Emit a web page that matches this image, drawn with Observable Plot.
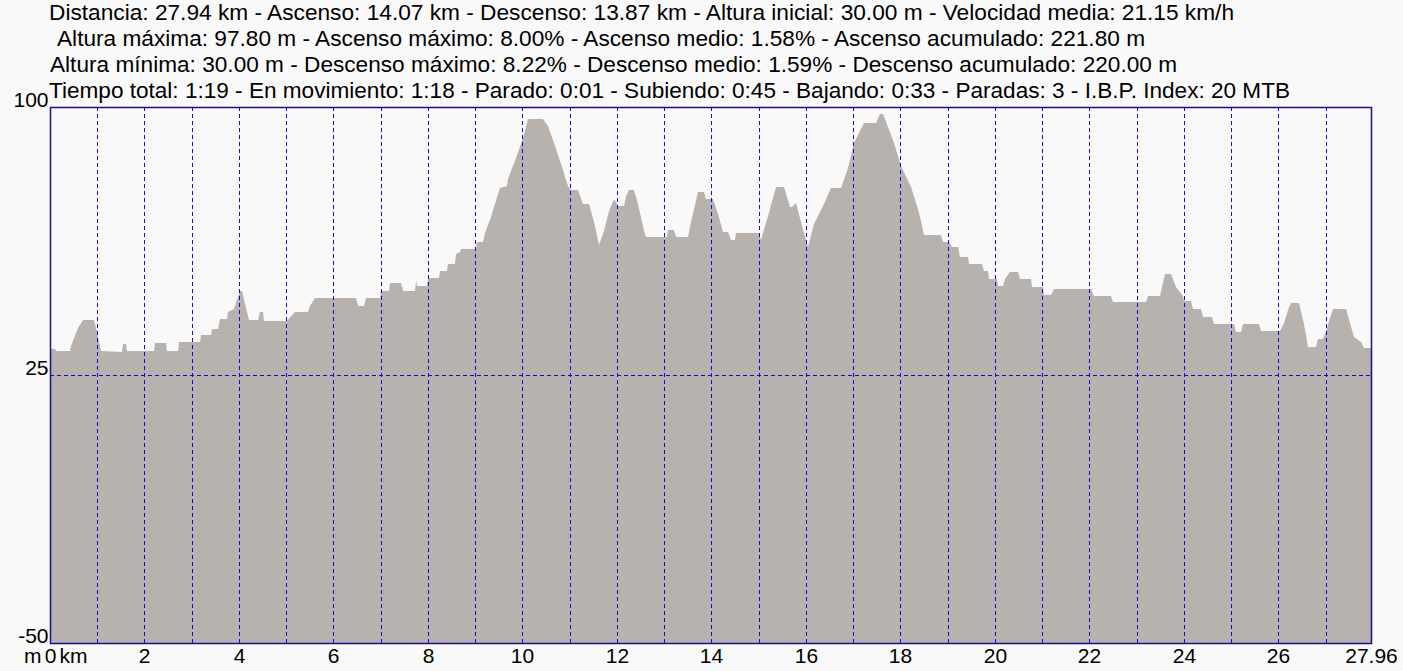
<!DOCTYPE html>
<html>
<head>
<meta charset="utf-8">
<script src="https://cdn.jsdelivr.net/npm/d3@7"></script>
<script src="https://cdn.jsdelivr.net/npm/@observablehq/plot@0.6"></script>
<style>
  html, body { margin: 0; padding: 0; background: #f9f9f9; }
  #wrap { position: relative; width: 1403px; height: 671px; overflow: hidden; }
  #header { position: absolute; left: 0; top: 0; }
  #header text { font-family: "Liberation Sans", Arial, sans-serif; font-size: 22px; fill: #000; }
</style>
</head>
<body>
<div id="wrap"><div id="chart"></div><svg id="header" width="1403" height="106"></svg></div>
<script>
// Header lines
const headerLines = [
  "Distancia: 27.94 km - Ascenso: 14.07 km - Descenso: 13.87 km - Altura inicial: 30.00 m - Velocidad media: 21.15 km/h",
  "Altura máxima: 97.80 m - Ascenso máximo: 8.00% - Ascenso medio: 1.58% - Ascenso acumulado: 221.80 m",
  "Altura mínima: 30.00 m - Descenso máximo: 8.22% - Descenso medio: 1.59% - Descenso acumulado: 220.00 m",
  "Tiempo total: 1:19 - En movimiento: 1:18 - Parado: 0:01 - Subiendo: 0:45 - Bajando: 0:33 - Paradas: 3 - I.B.P. Index: 20 MTB"
];
// Distance along the route (km)
const dist = [0.00,0.11,0.13,0.42,0.44,0.59,0.70,0.93,0.99,1.08,1.52,1.54,1.61,1.63,2.20,2.22,2.46,2.48,2.71,2.73,
  3.17,3.20,3.41,3.43,3.56,3.60,3.75,3.77,3.89,4.02,4.06,4.21,4.40,4.44,4.50,4.53,5.02,5.14,5.19,5.46,
  5.50,5.61,6.48,6.52,6.65,6.69,6.98,7.01,7.17,7.20,7.43,7.47,7.72,7.75,7.77,7.98,8.00,8.23,8.25,8.40,
  8.42,8.57,8.59,8.68,8.70,9.02,9.04,9.16,9.21,9.33,9.48,9.52,9.67,9.69,9.76,9.86,10.01,10.12,10.43,10.54,
  10.67,10.81,10.96,11.03,11.17,11.28,11.41,11.51,11.62,11.72,11.83,11.94,12.02,12.15,12.19,12.25,12.36,12.44,12.57,12.61,
  13.06,13.08,13.21,13.25,13.50,13.57,13.71,13.84,13.89,14.03,14.14,14.24,14.35,14.41,14.50,14.52,15.01,15.05,15.20,15.37,
  15.53,15.66,15.70,15.79,15.89,16.04,16.17,16.38,16.53,16.74,16.89,17.02,17.23,17.48,17.57,17.63,17.67,17.86,18.01,18.22,
  18.37,18.43,18.50,18.86,18.90,19.03,19.09,19.22,19.26,19.43,19.45,19.72,19.77,19.85,19.87,20.04,20.06,20.17,20.21,20.32,
  20.48,20.53,20.76,20.78,21.02,21.04,21.19,21.25,22.03,22.10,22.46,22.50,23.20,23.24,23.49,23.53,23.60,23.72,23.83,23.98,
  24.00,24.15,24.19,24.36,24.40,24.59,24.63,25.06,25.10,25.21,25.25,25.59,25.63,26.03,26.12,26.22,26.26,26.43,26.54,26.62,
  26.79,26.84,26.94,27.01,27.15,27.43,27.60,27.75,27.82,27.96];
// Elevation (m)
const elev = [32.3,32.3,31.8,31.8,33.0,38.1,40.4,40.4,37.0,31.8,31.5,33.7,33.7,31.8,31.8,34.0,34.0,31.8,31.8,34.3,
  34.3,36.2,36.2,38.0,38.0,40.7,40.7,42.7,43.5,48.6,48.6,40.4,40.4,42.5,42.5,40.2,40.2,42.2,42.5,42.5,
  44.4,46.5,46.5,44.4,44.4,46.5,46.5,48.6,48.6,50.7,50.7,48.6,48.6,51.4,50.0,50.0,52.1,52.1,54.2,54.2,
  56.0,56.0,58.8,59.5,60.3,60.3,62.3,62.3,64.6,69.1,75.6,77.3,78.0,79.8,82.1,85.8,91.4,96.6,96.6,94.7,
  90.0,84.0,77.9,76.7,76.7,72.8,72.8,67.7,61.4,65.3,70.9,74.2,72.3,72.3,75.1,76.7,76.7,72.8,65.3,63.5,
  63.5,65.5,65.5,63.5,63.5,67.7,76.1,76.1,74.2,74.2,70.0,64.9,64.9,62.8,62.8,64.6,64.6,62.8,69.5,77.5,
  77.5,71.9,71.9,73.0,67.7,60.7,67.2,72.8,77.3,77.3,83.0,90.0,95.6,95.6,98.0,98.0,96.6,90.0,83.5,77.5,
  71.4,68.1,64.2,64.2,62.3,62.3,60.7,60.7,57.9,57.9,56.0,56.0,54.2,54.2,52.0,52.0,50.0,50.0,51.8,53.7,
  53.7,51.8,51.8,49.7,49.7,47.5,47.5,49.2,49.2,47.2,47.2,45.3,45.3,47.2,47.2,49.5,53.4,53.4,49.5,47.0,
  45.8,45.8,43.5,43.5,41.3,41.3,39.3,39.3,36.9,36.9,39.3,39.3,37.2,37.2,39.5,43.9,45.1,45.1,39.3,32.9,
  32.9,35.1,35.1,37.2,43.5,43.5,35.5,34.1,32.6,32.6];
const gridKm = [1,2,3,4,5,6,7,8,9,10,11,12,13,14,15,16,17,18,19,20,21,22,23,24,25,26,27];
const xTicks = [0,2,4,6,8,10,12,14,16,18,20,22,24,26,27.96];
const yTicks = [-50,25,100];
const yGrid = [25];
const xUnit = "km";
const yUnit = "m";

const profile = dist.map((d, i) => ({d, e: elev[i]}));

const gridColor = "#2200d8";
const frameColor = "#1b0e8f";
const chart = Plot.plot({
  width: 1403,
  height: 671,
  marginLeft: 50,
  marginRight: 32,
  marginTop: 107,
  marginBottom: 28,
  style: {background: "#f9f9f9", fontFamily: "'Liberation Sans', Arial, sans-serif", fontSize: "21px", color: "#000"},
  x: {domain: [0, 27.96], round: true},
  y: {domain: [-50, 100], round: true},
  marks: [
    Plot.areaY(profile, {x: "d", y1: -50, y2: "e", fill: "#b8b2ae", curve: "linear"}),
    Plot.ruleX(gridKm, {x: d => d, stroke: gridColor, strokeWidth: 1, strokeDasharray: "4,3"}),
    Plot.ruleY(yGrid, {y: d => d, stroke: gridColor, strokeWidth: 1, strokeDasharray: "4,3"}),
    Plot.frame({stroke: frameColor, strokeWidth: 1.5}),
    Plot.axisX(xTicks, {tickSize: 0, tickPadding: 5, fontSize: 21, tickFormat: d => String(d), label: null}),
    Plot.text([yUnit], {x: 0, y: -50, text: d => d, textAnchor: "end", lineAnchor: "top", dx: -9, dy: 5, fontSize: 21}),
    Plot.text([xUnit], {x: 0, y: -50, text: d => d, textAnchor: "start", lineAnchor: "top", dx: 9, dy: 5, fontSize: 21}),
    Plot.axisY(yTicks, {tickSize: 0, tickPadding: 2, fontSize: 21, lineAnchor: "bottom", dy: -1, tickFormat: d => String(d), label: null})
  ]
});
document.getElementById("chart").appendChild(chart);

// header text, sized to match reference line widths
const hdr = d3.select("#header");
const hx = [49, 57, 50, 49];
const hEnd = [1234, 1145, 1177, 1290];
const hy = [20, 46, 72, 98];
headerLines.forEach((t, i) => {
  hdr.append("text")
    .attr("x", hx[i]).attr("y", hy[i])
    .attr("textLength", hEnd[i] - hx[i])
    .attr("lengthAdjust", "spacingAndGlyphs")
    .text(t);
});
</script>
</body>
</html>
